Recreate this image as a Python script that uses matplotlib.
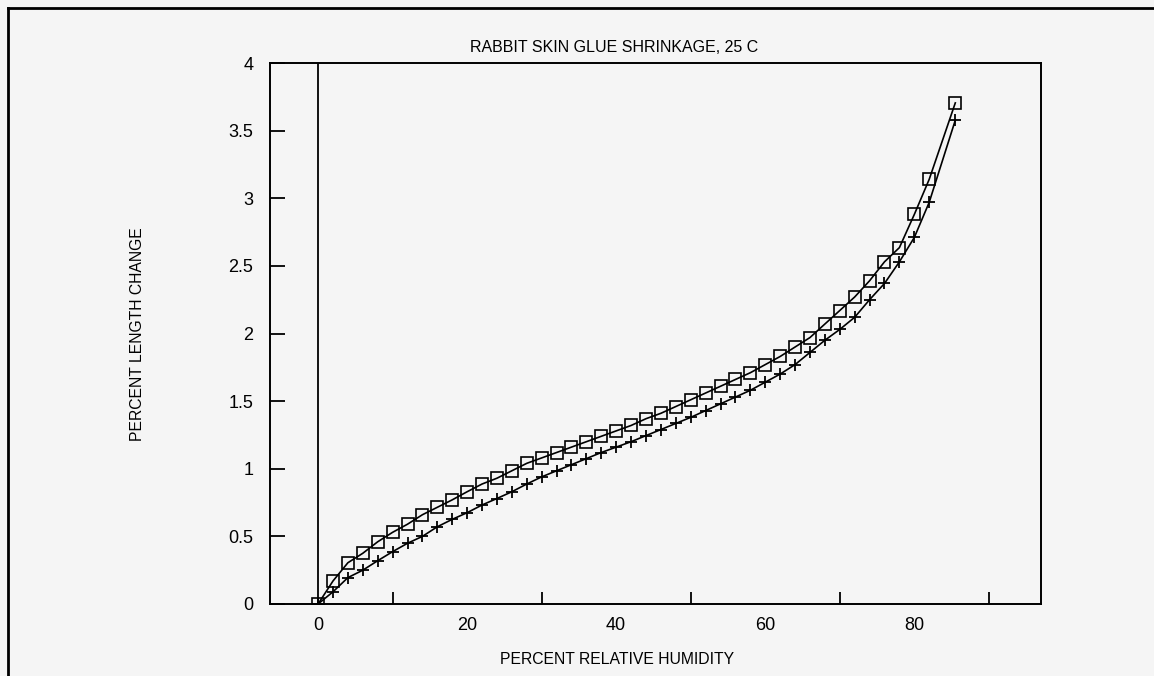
import matplotlib
matplotlib.use("Agg")
import matplotlib.pyplot as plt
from matplotlib.lines import Line2D

# Data (percent RH vs percent length change)
rh = [0, 2, 4, 6, 8, 10, 12, 14, 16, 18, 20, 22, 24, 26, 28, 30, 32, 34, 36, 38,
      40, 42, 44, 46, 48, 50, 52, 54, 56, 58, 60, 62, 64, 66, 68, 70, 72, 74, 76,
      78, 80, 82, 85.5]
squares = [0.0, 0.17, 0.305, 0.375, 0.46, 0.53, 0.59, 0.66, 0.715, 0.77, 0.83,
           0.887, 0.93, 0.985, 1.04, 1.08, 1.12, 1.16, 1.20, 1.24, 1.28, 1.32,
           1.37, 1.41, 1.46, 1.51, 1.56, 1.61, 1.66, 1.71, 1.77, 1.83, 1.90,
           1.97, 2.07, 2.17, 2.27, 2.39, 2.53, 2.635, 2.88, 3.14, 3.705]
pluses = [0.0, 0.09, 0.195, 0.25, 0.32, 0.387, 0.449, 0.50, 0.571, 0.626, 0.675,
          0.732, 0.78, 0.83, 0.887, 0.94, 0.985, 1.03, 1.075, 1.12, 1.16, 1.20,
          1.245, 1.29, 1.335, 1.38, 1.43, 1.48, 1.53, 1.58, 1.64, 1.70, 1.77,
          1.86, 1.95, 2.03, 2.12, 2.25, 2.37, 2.53, 2.71, 2.97, 3.577]

xticks_major = [0, 20, 40, 60, 80]
xticks_minor = [10, 20, 30, 40, 50, 60, 70, 80, 90]
yticks = [0, 0.5, 1, 1.5, 2, 2.5, 3, 3.5, 4]
ytick_labels = ["0", "0.5", "1", "1.5", "2", "2.5", "3", "3.5", "4"]

W, H = 1154, 676
bg = "#f5f5f5"
fig = plt.figure(figsize=(W / 100, H / 100), dpi=100, facecolor=bg)
plt.rcParams["font.family"] = ["Liberation Sans", "DejaVu Sans"]

ax = fig.add_axes([270 / W, 1 - 604 / H, (1041 - 270) / W, (604 - 63) / H])
ax.set_facecolor(bg)
ax.set_xlim(-6.45, 97.0)
ax.set_ylim(0, 4)

ax.axvline(0, color="black", lw=1.3)

ax.plot(rh, squares, color="black", lw=1.2, marker="s", ms=8.5,
        mfc="none", mec="black", mew=1.2)
ax.plot(rh, pluses, color="black", lw=1.2, marker="+", ms=8, mew=1.3)

ax.set_xticks(xticks_major)
ax.set_xticks(xticks_minor, minor=True)
ax.set_xticklabels([str(v) for v in xticks_major])
ax.set_yticks(yticks)
ax.set_yticklabels(ytick_labels)
ax.tick_params(axis="x", which="major", direction="in", length=0,
               labelsize=13, pad=9)
ax.tick_params(axis="x", which="minor", direction="in", length=9, width=1.3)
ax.tick_params(axis="y", which="both", direction="in", length=11, width=1.3,
               labelsize=13, pad=12)
for s in ax.spines.values():
    s.set_linewidth(1.4)

fig.text(614 / W, 1 - 48 / H, "RABBIT SKIN GLUE SHRINKAGE, 25 C",
         ha="center", va="center", fontsize=11.5)
fig.text(617 / W, 1 - 660 / H, "PERCENT RELATIVE HUMIDITY",
         ha="center", va="center", fontsize=11.3)
fig.text(138 / W, 1 - 334 / H, "PERCENT LENGTH CHANGE", rotation=90,
         ha="center", va="center", fontsize=11.3)

# outer frame
fig.add_artist(Line2D([8 / W, 8 / W], [0, 1 - 8 / H], transform=fig.transFigure,
                      color="black", lw=2))
fig.add_artist(Line2D([8 / W, 1], [1 - 8 / H, 1 - 8 / H], transform=fig.transFigure,
                      color="black", lw=2))

fig.savefig("out.png", dpi=100, facecolor=bg)
